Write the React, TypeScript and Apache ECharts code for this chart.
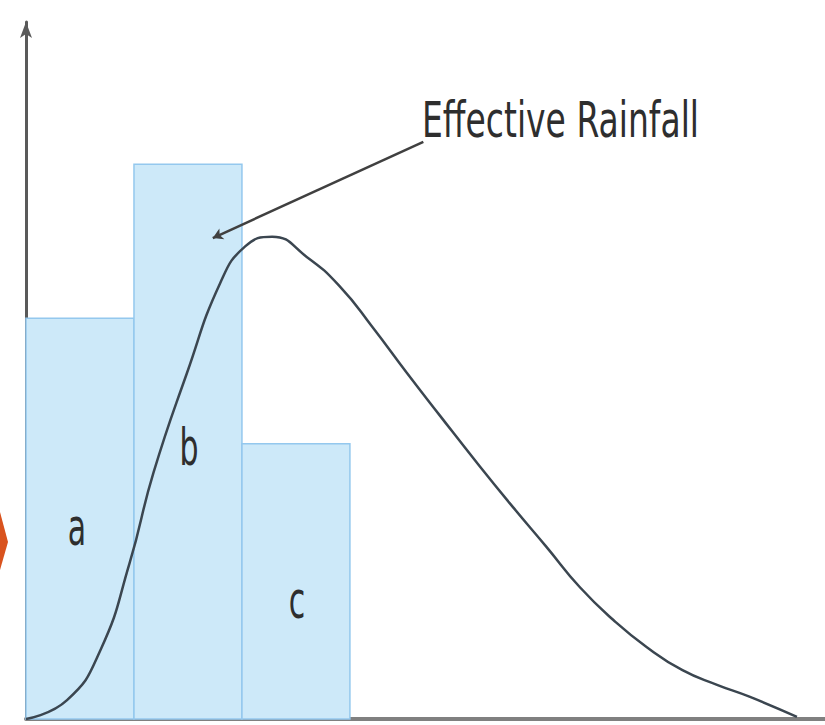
import React, { useEffect, useRef } from "react";
import * as echarts from "echarts";

// Rainfall blocks (x from start to end, height)
const barStarts = [0, 1, 2];
const barEnds = [1, 2, 3];
const barHeights = [5.75, 7.96, 3.95];
const barLabels = ["a", "b", "c"];

// Hydrograph curve
const curveX = [0, 0.38, 0.69, 0.96, 1.18, 1.49, 1.8, 2.03, 2.28, 2.6, 2.91, 3.21, 3.53, 3.83, 4.2, 4.51, 4.82, 5.13, 5.44, 5.75, 6.08, 6.4, 6.7, 7.14];
const curveY = [0, 0.27, 0.99, 2.24, 3.53, 4.96, 6.26, 6.78, 6.92, 6.63, 6.2, 5.62, 4.96, 4.36, 3.63, 3.04, 2.47, 1.89, 1.42, 1.03, 0.7, 0.49, 0.32, 0.03];

// Annotation
const annotationText = "Effective Rainfall";
const arrowFrom = [3.68, 8.28];
const arrowTo = [1.73, 6.9];

export default function App() {
  const ref = useRef<HTMLDivElement>(null);
  useEffect(() => {
    if (!ref.current) return;
    const chart = echarts.init(ref.current, null, { renderer: "svg" });
    const font = 'Verdana, "DejaVu Sans", sans-serif';
    const barData = barStarts.map((s, i) => [s, barEnds[i], barHeights[i]]);
    chart.setOption({
      animation: false,
      grid: { left: 26, right: 0, top: 22, bottom: 6, containLabel: false },
      xAxis: {
        type: "value",
        min: 0,
        max: 7.4,
        axisLine: { show: true, lineStyle: { color: "#808080", width: 4 } },
        axisTick: { show: false },
        axisLabel: { show: false },
        splitLine: { show: false },
      },
      yAxis: {
        type: "value",
        min: 0,
        max: 10,
        axisLine: {
          show: true,
          symbol: ["none", "arrow"],
          symbolSize: [9, 16],
          lineStyle: { color: "#5a5a5a", width: 3 },
        },
        axisTick: { show: false },
        axisLabel: { show: false },
        splitLine: { show: false },
      },
      series: [
        {
          type: "custom",
          z: 1,
          data: barData,
          renderItem: (params: any, api: any) => {
            const p0 = api.coord([api.value(0), api.value(2)]);
            const p1 = api.coord([api.value(1), 0]);
            return {
              type: "rect",
              shape: { x: p0[0], y: p0[1], width: p1[0] - p0[0], height: p1[1] - p0[1] },
              style: { fill: "#cde9f9", stroke: "#94c8ee", lineWidth: 1.5 },
            };
          },
        },
        {
          type: "line",
          z: 3,
          data: curveX.map((x, i) => [x, curveY[i]]),
          smooth: 0.5,
          showSymbol: false,
          lineStyle: { color: "#3b4650", width: 2.5 },
          markLine: {
            silent: true,
            symbol: ["none", "arrow"],
            symbolSize: [9, 10],
            label: { show: false },
            lineStyle: { color: "#404040", width: 2.5, type: "solid" },
            data: [[{ coord: arrowFrom }, { coord: arrowTo }]],
          },
        },
      ],
      graphic: [
        {
          type: "text",
          x: 422,
          y: 145,
          z: 10,
          scaleY: 1.5,
          style: {
            text: annotationText,
            fontFamily: font,
            fontSize: 33,
            fill: "#2e2e2e",
            textAlign: "left",
            textVerticalAlign: "bottom",
          },
        },
        ...barLabels.map((t, i) => ({
          type: "text",
          x: [77, 189, 297][i],
          y: [527, 447, 600][i],
          z: 10,
          scaleY: 1.7,
          style: {
            text: t,
            fontFamily: font,
            fontSize: 30,
            fill: "#2e2e2e",
            textAlign: "center",
            textVerticalAlign: "middle",
          },
        })),
        {
          type: "polygon",
          z: 10,
          shape: { points: [[0, 512], [8, 542], [0, 570]] },
          style: { fill: "#d9531e" },
        },
      ],
    });
    return () => chart.dispose();
  }, []);
  return <div ref={ref} style={{ width: 825, height: 725, position: "absolute", left: 0, top: 0 }} />;
}
